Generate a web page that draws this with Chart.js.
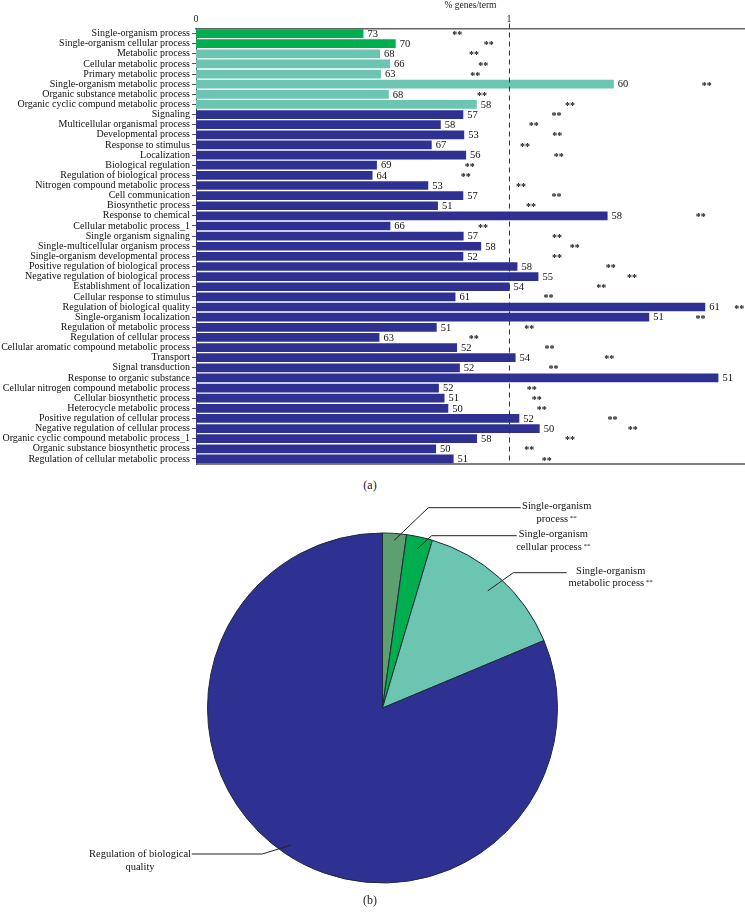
<!DOCTYPE html>
<html>
<head>
<meta charset="utf-8">
<script src="https://cdn.jsdelivr.net/npm/chart.js@4.4.0/dist/chart.umd.min.js"></script>
<style>
  html, body { margin: 0; padding: 0; background: #fff; }
  body { width: 745px; height: 919px; position: relative; overflow: hidden; font-family: "Liberation Serif", "DejaVu Serif", serif; }
  #barWrap { position: absolute; left: 0; top: 0; width: 745px; height: 472px; }
  #pieWrap { position: absolute; left: 0; top: 480px; width: 745px; height: 420px; }
  .cap { position: absolute; font-size: 12px; color: #222; transform: translateX(-50%); }
</style>
</head>
<body>
<div id="barWrap"><canvas id="bar" width="745" height="472"></canvas></div>
<div class="cap" style="left:370px; top:478px;">(a)</div>
<div id="pieWrap"><canvas id="pie" width="745" height="420"></canvas></div>
<div class="cap" style="left:370px; top:893px;">(b)</div>
<script>
// ---------- Data (a) ----------
const categories = [
  "Single-organism process",
  "Single-organism cellular process",
  "Metabolic process",
  "Cellular metabolic process",
  "Primary metabolic process",
  "Single-organism metabolic process",
  "Organic substance metabolic process",
  "Organic cyclic compund metabolic process",
  "Signaling",
  "Multicellular organismal process",
  "Developmental process",
  "Response to stimulus",
  "Localization",
  "Biological regulation",
  "Regulation of biological process",
  "Nitrogen compound metabolic process",
  "Cell communication",
  "Biosynthetic process",
  "Response to chemical",
  "Cellular metabolic process_1",
  "Single organism signaling",
  "Single-multicellular organism process",
  "Single-organism developmental process",
  "Positive regulation of biological process",
  "Negative regulation of biological process",
  "Establishment of localization",
  "Cellular response to stimulus",
  "Regulation of biological quality",
  "Single-organism localization",
  "Regulation of metabolic process",
  "Regulation of cellular process",
  "Cellular aromatic compound metabolic process",
  "Transport",
  "Signal transduction",
  "Response to organic substance",
  "Cellular nitrogen compound metabolic process",
  "Cellular biosynthetic process",
  "Heterocycle metabolic process",
  "Positive regulation of cellular process",
  "Negative regulation of cellular process",
  "Organic cyclic compound metabolic process_1",
  "Organic substance biosynthetic process",
  "Regulation of cellular metabolic process"
];
// % genes/term (bar length)
const genesPerTerm = [
  0.535, 0.638, 0.588, 0.620, 0.591, 1.335, 0.616, 0.897, 0.854, 0.782,
  0.857, 0.753, 0.863, 0.578, 0.564, 0.742, 0.854, 0.773, 1.315, 0.621,
  0.855, 0.911, 0.854, 1.027, 1.094, 1.002, 0.829, 1.627, 1.448, 0.769,
  0.586, 0.834, 1.021, 0.843, 1.669, 0.776, 0.794, 0.806, 1.033, 1.098,
  0.898, 0.767, 0.823
];
// number printed next to each bar
const barNumbers = [
  73, 70, 68, 66, 63, 60, 68, 58, 57, 58,
  53, 67, 56, 69, 64, 53, 57, 51, 58, 66,
  57, 58, 52, 58, 55, 54, 61, 61, 51, 51,
  63, 52, 54, 52, 51, 52, 51, 50, 52, 50,
  58, 50, 51
];
// position of the "**" significance marks (axis units)
const starPositions = [
  0.835, 0.935, 0.888, 0.918, 0.892, 1.632, 0.914, 1.195, 1.152, 1.079,
  1.154, 1.051, 1.159, 0.875, 0.862, 1.038, 1.152, 1.070, 1.613, 0.917,
  1.153, 1.210, 1.153, 1.325, 1.393, 1.295, 1.126, 1.736, 1.612, 1.065,
  0.887, 1.129, 1.320, 1.142, null, 1.073, 1.089, 1.105, 1.331, 1.395,
  1.195, 1.065, 1.121
];
// group of each bar: 0 = single-organism, 1 = metabolic, 2 = other
const barGroups = [
  0, 0, 1, 1, 1, 1, 1, 1, 2, 2,
  2, 2, 2, 2, 2, 2, 2, 2, 2, 2,
  2, 2, 2, 2, 2, 2, 2, 2, 2, 2,
  2, 2, 2, 2, 2, 2, 2, 2, 2, 2,
  2, 2, 2
];
const xTickValues = [0, 1];
const xMax = 1.754;
const referenceValue = 1;

// ---------- Data (b) ----------
const pieLabels = [
  ["Single-organism", "process"],
  ["Single-organism", "cellular process"],
  ["Single-organism", "metabolic process"],
  ["Regulation of biological", "quality"]
];
const pieStars = [true, true, true, false];
const pieValues = [2.2, 2.4, 14.1, 81.3];

// ---------- Styles ----------
const groupColors = ["#00ad4f", "#6cc5b1", "#2e3192"];
const pieColors = ["#5d9f6e", "#00ad4f", "#6cc5b1", "#2e3192"];
const SERIF = '"Liberation Serif", "DejaVu Serif", serif';

// ---------- Chart (a) ----------
const barOverlay = {
  id: 'barOverlay',
  afterDatasetsDraw(chart) {
    const ctx = chart.ctx;
    const xs = chart.scales.x;
    const area = chart.chartArea;
    const meta = chart.getDatasetMeta(0);
    ctx.save();
    // reference dashed line
    const rx = Math.round(xs.getPixelForValue(referenceValue)) + 0.5;
    ctx.strokeStyle = '#333';
    ctx.lineWidth = 1;
    ctx.setLineDash([5, 4]);
    ctx.beginPath();
    ctx.moveTo(rx, area.top - 5);
    ctx.lineTo(rx, area.bottom);
    ctx.stroke();
    ctx.setLineDash([]);
    // bottom frame line
    ctx.strokeStyle = '#555';
    ctx.lineWidth = 1.3;
    ctx.beginPath();
    ctx.moveTo(area.left, area.bottom);
    ctx.lineTo(area.right, area.bottom);
    ctx.stroke();
    // numbers & stars
    ctx.fillStyle = '#111';
    ctx.textBaseline = 'middle';
    meta.data.forEach((bar, i) => {
      ctx.font = '10.5px ' + SERIF;
      ctx.textAlign = 'left';
      ctx.fillText(String(barNumbers[i]), bar.x + 4, bar.y + 0.5);
      if (starPositions[i] !== null) {
        ctx.font = 'bold 10px ' + SERIF;
        ctx.textAlign = 'center';
        ctx.fillText('**', xs.getPixelForValue(starPositions[i]), bar.y + 2);
      }
    });
    ctx.restore();
  }
};

new Chart(document.getElementById('bar'), {
  type: 'bar',
  data: {
    labels: categories,
    datasets: [{
      data: genesPerTerm,
      backgroundColor: barGroups.map(g => groupColors[g]),
      borderWidth: 0,
      barPercentage: 0.86,
      categoryPercentage: 1.0
    }]
  },
  options: {
    indexAxis: 'y',
    responsive: false,
    animation: false,
    devicePixelRatio: 1,
    layout: { padding: { left: 0, right: 0, top: 0, bottom: 6 } },
    plugins: { legend: { display: false }, tooltip: { enabled: false } },
    scales: {
      x: {
        position: 'top',
        min: 0,
        max: xMax,
        afterBuildTicks(scale) { scale.ticks = xTickValues.map(v => ({ value: v })); },
        afterFit(scale) { scale.height = 28.5; },
        grid: { display: false, drawTicks: false },
        border: { display: true, color: '#666', width: 1.5 },
        ticks: { color: '#222', font: { family: SERIF, size: 10 }, padding: 3, maxRotation: 0 },
        title: { display: true, text: '% genes/term', color: '#222', font: { family: SERIF, size: 9.5 }, padding: { top: 0, bottom: 0 } }
      },
      y: {
        afterFit(scale) { scale.width = 196; },
        grid: { display: true, drawOnChartArea: false, drawTicks: true, tickLength: 4, offset: false, color: '#555' },
        border: { display: true, color: '#555', width: 1 },
        ticks: { color: '#111', font: { family: SERIF, size: 10 }, padding: 2, autoSkip: false }
      }
    }
  },
  plugins: [barOverlay]
});

// ---------- Chart (b) ----------
const leaderCfg = [
  { r: 0.96, elbow: [45.8, -200.3], endX: 138.2, textX: 174.2, textY: -201.3 },
  { r: 0.93, elbow: [49.2, -172.3], endX: 134.2, textX: 170.8, textY: -173.7 },
  { r: 0.90, elbow: [130.8, -135.3], endX: 184.2, textX: 228.2, textY: -137.0 },
  { r: 0.94, elbow: [-120.2, 146.0], endX: -190.8, textX: -242.5, textY: 146.7 }
];
const pieLeaders = {
  id: 'pieLeaders',
  afterDatasetsDraw(chart) {
    const ctx = chart.ctx;
    const meta = chart.getDatasetMeta(0);
    ctx.save();
    meta.data.forEach((arc, i) => {
      const c = leaderCfg[i];
      const cx = arc.x, cy = arc.y;
      const mid = (arc.startAngle + arc.endAngle) / 2;
      const sx = cx + Math.cos(mid) * arc.outerRadius * c.r;
      const sy = cy + Math.sin(mid) * arc.outerRadius * c.r;
      ctx.strokeStyle = '#222';
      ctx.lineWidth = 1;
      ctx.beginPath();
      ctx.moveTo(sx, sy);
      ctx.lineTo(cx + c.elbow[0], cy + c.elbow[1]);
      ctx.lineTo(cx + c.endX, cy + c.elbow[1]);
      ctx.stroke();
      ctx.fillStyle = '#111';
      ctx.textBaseline = 'middle';
      pieLabels[i].forEach((line, j) => {
        const ty = cy + c.textY + j * 12.5;
        const tx = cx + c.textX;
        const last = j === pieLabels[i].length - 1;
        ctx.font = '10.5px ' + SERIF;
        const w = ctx.measureText(line).width;
        let sw = 0;
        if (last && pieStars[i]) {
          ctx.font = '7px ' + SERIF;
          sw = ctx.measureText(' **').width;
        }
        const x0 = tx - (w + sw) / 2;
        ctx.font = '10.5px ' + SERIF;
        ctx.textAlign = 'left';
        ctx.fillText(line, x0, ty);
        if (sw) {
          ctx.font = '7px ' + SERIF;
          ctx.fillText(' **', x0 + w, ty - 1);
        }
      });
    });
    ctx.restore();
  }
};

new Chart(document.getElementById('pie'), {
  type: 'pie',
  data: {
    labels: pieLabels.map(l => l.join(' ')),
    datasets: [{
      data: pieValues,
      backgroundColor: pieColors,
      borderColor: '#1e2a3a',
      borderWidth: 1
    }]
  },
  options: {
    responsive: false,
    animation: false,
    devicePixelRatio: 1,
    radius: 175,
    layout: { padding: { left: 207.5, right: 187.5, top: 53, bottom: 17 } },
    plugins: { legend: { display: false }, tooltip: { enabled: false } }
  },
  plugins: [pieLeaders]
});
</script>
</body>
</html>
